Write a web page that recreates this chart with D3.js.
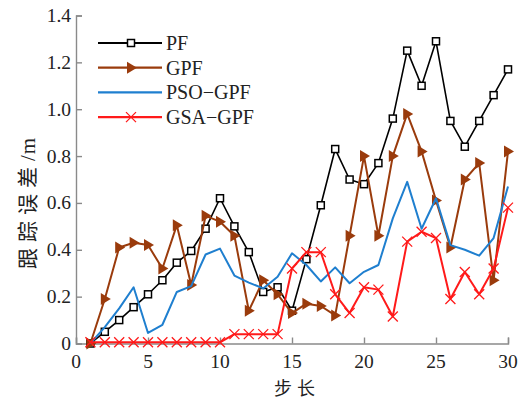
<!DOCTYPE html>
<html>
<head>
<meta charset="utf-8">
<script src="https://cdn.jsdelivr.net/npm/d3@7"></script>
<style>
  body { margin: 0; background: #fff; }
  svg text { font-family: "Liberation Serif", "DejaVu Serif", serif; }
</style>
</head>
<body>
<svg id="chart" width="529" height="403"></svg>
<script>
const steps = d3.range(1, 31);
const pf  = [0, 0.05, 0.1, 0.155, 0.21, 0.27, 0.345, 0.395, 0.49, 0.62, 0.5, 0.39, 0.22, 0.24, 0.14,
             0.36, 0.59, 0.83, 0.7, 0.68, 0.77, 0.96, 1.25, 1.1, 1.29, 0.95, 0.84, 0.95, 1.06, 1.17];
const gpf = [0, 0.19, 0.41, 0.43, 0.42, 0.32, 0.505, 0.25, 0.545, 0.52, 0.46, 0.14, 0.27, 0.21, 0.13,
             0.17, 0.16, 0.12, 0.46, 0.80, 0.46, 0.80, 0.98, 0.82, 0.61, 0.41, 0.70, 0.77, 0.27, 0.82];
const pso = [0, 0.07, 0.15, 0.24, 0.045, 0.08, 0.22, 0.245, 0.38, 0.405, 0.29, 0.26, 0.235, 0.285, 0.385,
             0.335, 0.265, 0.325, 0.257, 0.306, 0.335, 0.534, 0.69, 0.49, 0.62, 0.42, 0.40, 0.375, 0.45, 0.67];
const gsa = [0.005, 0.005, 0.005, 0.005, 0.005, 0.005, 0.005, 0.005, 0.005, 0.005, 0.04, 0.04, 0.04, 0.04, 0.32,
             0.39, 0.39, 0.21, 0.13, 0.24, 0.23, 0.115, 0.435, 0.477, 0.45, 0.19, 0.305, 0.21, 0.32, 0.58];
const xTicks = [0, 5, 10, 15, 20, 25, 30];
const yTicks = [0, 0.2, 0.4, 0.6, 0.8, 1.0, 1.2, 1.4];
const seriesNames = ['PF', 'GPF', 'PSO\u2212GPF', 'GSA\u2212GPF'];

const series = [
  { name: seriesNames[0], values: pf,  color: '#000000', marker: 'square', width: 1.6 },
  { name: seriesNames[1], values: gpf, color: '#9a3b0c', marker: 'triangle', width: 2 },
  { name: seriesNames[2], values: pso, color: '#1f7fcf', marker: 'none', width: 2 },
  { name: seriesNames[3], values: gsa, color: '#ff1a1a', marker: 'cross', width: 2 }
];

const svg = d3.select('#chart');
const x = d3.scaleLinear().domain([0, 30]).range([76, 508]);
const y = d3.scaleLinear().domain([0, 1.4]).range([343.5, 15.5]);

// axes: only left and bottom, ticks pointing inward
const axisColor = '#8a8a8a';
const xAxis = svg.append('g').attr('transform', `translate(0,${y(0)})`)
  .call(d3.axisTop(x).tickValues(xTicks).tickSize(6).tickFormat(''));
const yAxis = svg.append('g').attr('transform', `translate(${x(0)},0)`)
  .call(d3.axisRight(y).tickValues(yTicks).tickSize(6).tickFormat(''));
[xAxis, yAxis].forEach(a => {
  a.selectAll('path').attr('stroke', axisColor).attr('stroke-width', 1.4);
  a.selectAll('line').attr('stroke', axisColor).attr('stroke-width', 1.4);
});

svg.append('g').selectAll('text').data(xTicks).join('text')
  .attr('x', d => x(d)).attr('y', 368)
  .attr('text-anchor', 'middle').attr('font-size', 19.5).attr('fill', '#222')
  .text(d => d);
svg.append('g').selectAll('text').data(yTicks).join('text')
  .attr('x', 71).attr('y', d => y(d) + 6.5)
  .attr('text-anchor', 'end').attr('font-size', 19.5).attr('fill', '#222')
  .text(d => d === 0 ? '0' : d.toFixed(1));

svg.append('text').attr('x', 297).attr('y', 395)
  .attr('text-anchor', 'middle').attr('font-size', 18).attr('fill', '#222')
  .attr('letter-spacing', 5)
  .style('font-family', '"Noto Sans CJK SC", sans-serif')
  .text('步长');
const ylab = svg.append('text').attr('transform', 'translate(35,203) rotate(-90)')
  .attr('text-anchor', 'middle').attr('font-size', 21).attr('fill', '#222')
  .attr('letter-spacing', 6)
  .style('font-family', '"Noto Sans CJK SC", sans-serif');
ylab.append('tspan').text('跟踪误差');
ylab.append('tspan').style('font-family', '"Liberation Serif", serif').attr('letter-spacing', 1).text('/m');

function drawMarker(g, type, cx, cy, color) {
  if (type === 'square') {
    g.append('rect').attr('x', cx - 3.5).attr('y', cy - 3.5).attr('width', 7).attr('height', 7)
      .attr('fill', '#fff').attr('stroke', color).attr('stroke-width', 1.5);
  } else if (type === 'triangle') {
    g.append('path').attr('d', `M${cx - 4},${cy - 6}L${cx + 6},${cy}L${cx - 4},${cy + 6}Z`)
      .attr('fill', color);
  } else if (type === 'cross') {
    g.append('path').attr('d', `M${cx - 5},${cy - 5}L${cx + 5},${cy + 5}M${cx - 5},${cy + 5}L${cx + 5},${cy - 5}`)
      .attr('stroke', color).attr('stroke-width', 1.3).attr('fill', 'none');
  }
}

const line = d3.line().x((d, i) => x(steps[i])).y(d => y(d));
const plot = svg.append('g');
series.forEach(s => {
  plot.append('path').datum(s.values).attr('d', line)
    .attr('fill', 'none').attr('stroke', s.color).attr('stroke-width', s.width)
    .attr('stroke-linejoin', 'round');
  const mg = plot.append('g');
  s.values.forEach((v, i) => drawMarker(mg, s.marker, x(steps[i]), y(v), s.color));
});

// legend
const legend = svg.append('g');
legend.append('rect').attr('x', 95).attr('y', 30).attr('width', 175).attr('height', 100).attr('fill', '#fff');
series.forEach((s, i) => {
  const ly = 43 + i * 24.7;
  legend.append('line').attr('x1', 98).attr('x2', 162).attr('y1', ly).attr('y2', ly)
    .attr('stroke', s.color).attr('stroke-width', 2.2);
  drawMarker(legend, s.marker, 131, ly, s.color);
  legend.append('text').attr('x', 166).attr('y', ly + 7).attr('font-size', 20).attr('fill', '#222')
    .text(s.name);
});
</script>
</body>
</html>
